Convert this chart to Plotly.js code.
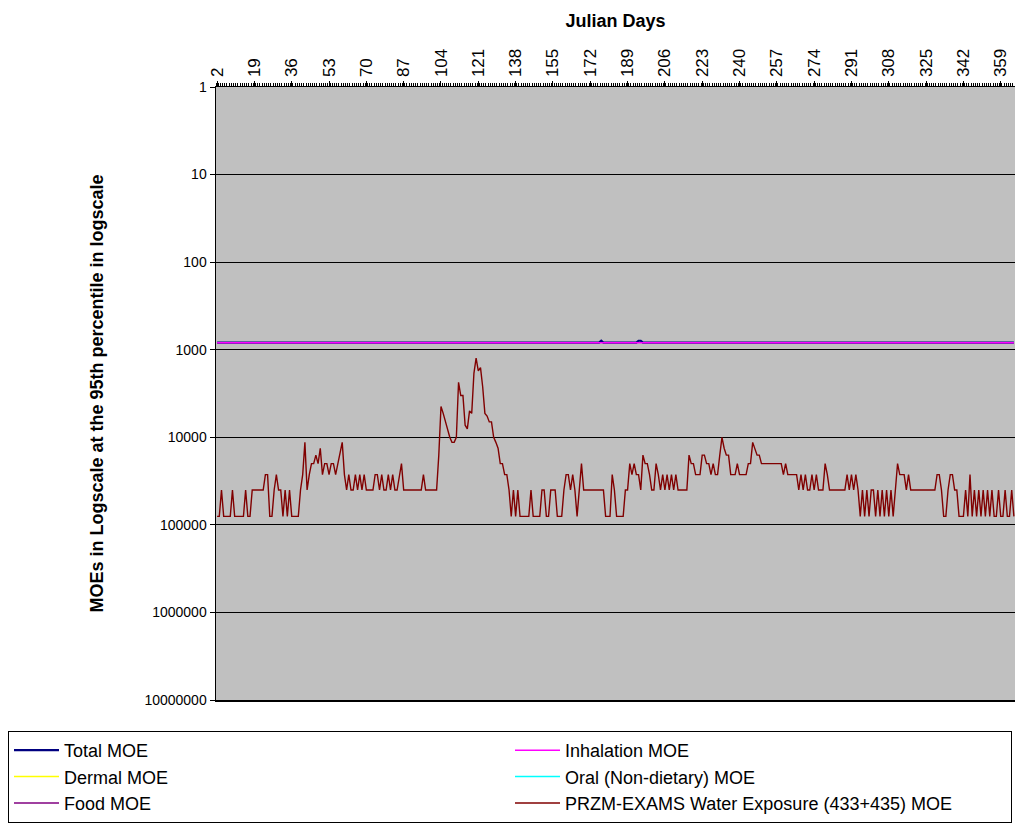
<!DOCTYPE html>
<html><head><meta charset="utf-8">
<script src="https://cdn.plot.ly/plotly-3.0.1.min.js"></script>
<style>html,body{margin:0;padding:0;background:#fff;overflow:hidden}</style>
</head><body>
<div id="chart" style="width:1015px;height:826px"></div>
<script>
// ---- data ----
const firstDay = 2; // first Julian day on the category axis
// PRZM-EXAMS water exposure MOE, one value per day (days 2..365)
const waterMOE = [
  80000,80000,40000,80000,80000,80000,80000,40000,80000,80000,   // 2-11
  80000,80000,80000,40000,80000,80000,40000,40000,40000,40000,   // 12-21
  40000,40000,26667,26667,80000,80000,40000,26667,40000,40000,   // 22-31
  80000,40000,80000,40000,80000,80000,80000,80000,40000,26667,   // 32-41
  11429,40000,26667,20000,20000,16000,20000,13333,26667,20000,   // 42-51
  20000,26667,20000,20000,26667,20000,16000,11429,26667,40000,   // 52-61
  26667,40000,40000,26667,40000,26667,40000,26667,40000,40000,   // 62-71
  40000,40000,26667,26667,40000,26667,40000,40000,26667,40000,   // 72-81
  26667,40000,40000,26667,20000,40000,40000,40000,40000,40000,   // 82-91
  40000,40000,40000,40000,26667,40000,40000,40000,40000,40000,   // 92-101
  40000,16000,4444,5333,6667,8000,10000,11429,11429,10000,       // 102-111
  2353,3333,3333,7273,8000,5000,5333,1860,1250,1739,             // 112-121
  1600,2667,5333,5714,6667,6667,10000,11429,13333,20000,         // 122-131
  20000,26667,26667,40000,80000,40000,80000,40000,80000,80000,   // 132-141
  80000,80000,80000,40000,80000,80000,80000,80000,40000,40000,   // 142-151
  80000,80000,40000,40000,40000,80000,80000,80000,40000,26667,   // 152-161
  26667,40000,26667,40000,80000,40000,20000,40000,40000,40000,   // 162-171
  40000,40000,40000,40000,40000,40000,40000,80000,80000,80000,   // 172-181
  26667,40000,80000,80000,80000,80000,40000,40000,20000,26667,   // 182-191
  20000,26667,26667,40000,16000,20000,20000,26667,40000,40000,   // 192-201
  20000,26667,40000,26667,40000,26667,40000,26667,40000,26667,   // 202-211
  40000,40000,40000,40000,40000,16000,20000,20000,26667,26667,   // 212-221
  26667,16000,16000,20000,20000,26667,20000,26667,26667,16000,   // 222-231
  10000,13333,16000,16000,26667,26667,26667,20000,26667,26667,   // 232-241
  26667,26667,20000,20000,11429,13333,16000,16000,20000,20000,   // 242-251
  20000,20000,20000,20000,20000,20000,20000,20000,26667,20000,   // 252-261
  26667,26667,26667,26667,26667,40000,26667,40000,26667,40000,   // 262-271
  40000,26667,40000,26667,40000,40000,40000,20000,26667,40000,   // 272-281
  40000,40000,40000,40000,40000,40000,40000,26667,40000,26667,   // 282-291
  40000,26667,40000,80000,40000,80000,40000,80000,40000,40000,   // 292-301
  80000,40000,80000,40000,80000,40000,80000,40000,80000,40000,   // 302-311
  20000,26667,26667,26667,40000,26667,40000,40000,40000,40000,   // 312-321
  40000,40000,40000,40000,40000,40000,40000,40000,26667,26667,   // 322-331
  40000,80000,80000,40000,26667,26667,40000,40000,80000,80000,   // 332-341
  80000,40000,80000,26667,80000,40000,80000,40000,80000,40000,   // 342-351
  80000,40000,80000,40000,80000,80000,40000,80000,80000,40000,   // 352-361
  80000,80000,40000,80000                                        // 362-365
];
// Total MOE: flat line with two small dips (given at its break points)
const totalDays = [2,176,177,178,193,194,195,196,365];
const totalMOE  = [830,830,790,830,830,790,790,830,830];
// Inhalation MOE: flat line
const inhalationDays = [2,365];
const inhalationMOE  = [830,830];
// Series listed in the legend but with no values drawn in the plot
const emptyDays = [2,365];
const dermalMOE = [null,null];
const oralMOE = [null,null];
const foodMOE = [null,null];

const seriesNames = ['Total MOE','Inhalation MOE','Dermal MOE','Oral (Non-dietary) MOE','Food MOE','PRZM-EXAMS Water Exposure (433+435) MOE'];
const seriesColors = ['#000080','#ff00ff','#ffff00','#00ffff','#800080','#800000'];

const xTickDays = [2,19,36,53,70,87,104,121,138,155,172,189,206,223,240,257,274,291,308,325,342,359];
const yTickVals = [1,10,100,1000,10000,100000,1000000,10000000];
const yTickText = ['1','10','100','1000','10000','100000','1000000','10000000'];

const waterDays = waterMOE.map((_, i) => firstDay + i);

function line(name, color, x, y, width) {
  return {type:'scatter', mode:'lines', name:name, x:x, y:y,
          line:{color:color, width:width}, hoverinfo:'skip'};
}

const traces = [
  line(seriesNames[0], seriesColors[0], totalDays, totalMOE, 2.2),
  line(seriesNames[1], seriesColors[1], inhalationDays, inhalationMOE, 1.5),
  line(seriesNames[2], seriesColors[2], emptyDays, dermalMOE, 1.5),
  line(seriesNames[3], seriesColors[3], emptyDays, oralMOE, 1.5),
  line(seriesNames[4], seriesColors[4], emptyDays, foodMOE, 1.5),
  line(seriesNames[5], seriesColors[5], waterDays, waterMOE, 1.4)
];

// plot-area pixel frame used to place the legend in paper units
const W = 1015, H = 826, ML = 216, MR = 0, MT = 87, MB = 126;
const plotW = W - ML - MR, plotH = H - MT - MB;
const pxToPaperX = px => (px - ML) / plotW;
const pyToPaperY = py => (H - MB - py) / plotH;

const layout = {
  width:W, height:H,
  margin:{l:ML, r:MR, t:MT, b:MB, pad:0},
  paper_bgcolor:'#ffffff', plot_bgcolor:'#c0c0c0',
  font:{family:'"Liberation Sans", Arial, sans-serif', color:'#000000', size:14},
  showlegend:true,
  xaxis:{
    side:'top', range:[1.5, 365.5], tickmode:'array',
    tickvals:xTickDays, ticktext:xTickDays.map(String),
    tickangle:-90, tickfont:{size:17},
    ticks:'outside', ticklen:5, tickwidth:1, tickcolor:'#000',
    showline:true, linecolor:'#000', linewidth:1.5, mirror:true,
    showgrid:false, zeroline:false,
    minor:{tickmode:'linear', tick0:1.5, dtick:1, ticks:'outside', ticklen:3, tickwidth:1, tickcolor:'#000', showgrid:false},
    title:{text:'Julian Days', font:{size:18, weight:'bold'}, standoff:16},
    fixedrange:true
  },
  yaxis:{
    type:'log', range:[7, 0], tickmode:'array',
    tickvals:yTickVals, ticktext:yTickText, tickfont:{size:14},
    ticks:'outside', ticklen:5, tickwidth:1, tickcolor:'#000',
    showline:true, linecolor:'#000', linewidth:1.5,
    showgrid:true, gridcolor:'#000000', gridwidth:1, zeroline:false,
    title:{text:'MOEs in Logscale at the 95th percentile in logscale', font:{size:18, weight:'bold'}, standoff:36},
    fixedrange:true
  },
  legend:{
    orientation:'h', xref:'paper', yref:'paper',
    x:pxToPaperX(8), xanchor:'left', y:pyToPaperY(731), yanchor:'top',
    bgcolor:'#ffffff', bordercolor:'#000000', borderwidth:1,
    font:{size:18}, entrywidth:441, entrywidthmode:'pixels', itemwidth:45,
    traceorder:'normal'
  }
};

Plotly.newPlot('chart', traces, layout, {displayModeBar:false, staticPlot:true});
</script>
</body></html>
